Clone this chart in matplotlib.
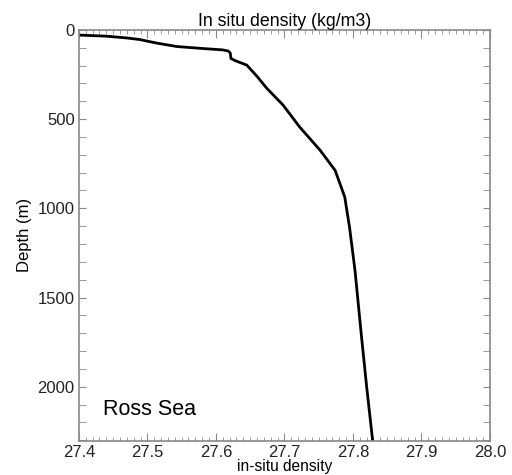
import numpy as np
import matplotlib
matplotlib.use("Agg")
import matplotlib.pyplot as plt
from matplotlib.ticker import MultipleLocator

# Ross Sea in-situ density profile
density = [27.395, 27.44, 27.47, 27.489, 27.50, 27.514, 27.543, 27.58,
           27.610, 27.618, 27.621, 27.622, 27.628, 27.645, 27.660, 27.674,
           27.698, 27.722, 27.752, 27.774, 27.788, 27.795, 27.803, 27.812,
           27.820, 27.829]
depth = [28, 35, 45, 54, 63, 74, 93, 104, 112, 118, 130, 160, 172, 197, 260,
         326, 421, 543, 674, 787, 936, 1105, 1348, 1700, 2000, 2310]

plt.rcParams['font.family'] = ['Liberation Sans', 'DejaVu Sans']

fig = plt.figure(figsize=(5.12, 4.75), dpi=100)
ax = fig.add_axes([0.154, 0.072, 0.803, 0.865])

ax.plot(density, depth, color="black", lw=2)

ax.set_xlim(27.4, 28.0)
ax.set_ylim(2303, 0)
ax.set_xticks([27.4, 27.5, 27.6, 27.7, 27.8, 27.9, 28.0])
ax.set_xticklabels(["27.4", "27.5", "27.6", "27.7", "27.8", "27.9", "28.0"])
ax.xaxis.set_minor_locator(MultipleLocator(0.01))
ax.set_yticks([0, 500, 1000, 1500, 2000])
ax.yaxis.set_minor_locator(MultipleLocator(100))

ax.tick_params(which="both", direction="in", top=True, right=True,
               color="#888888", labelsize=12, labelcolor="#222222", pad=3)
ax.tick_params(axis="x", which="major", length=6)
ax.tick_params(axis="x", which="minor", length=3)
ax.tick_params(axis="y", which="both", length=5)
for s in ax.spines.values():
    s.set_color("#888888")
    s.set_linewidth(1.2)

ax.set_title("In situ density (kg/m3)", fontsize=12.8, pad=3)
ax.set_xlabel("in-situ density", fontsize=11.2, labelpad=-1)
ax.set_ylabel("Depth (m)", fontsize=12)

ax.text(27.435, 2130, "Ross Sea", fontsize=15.5, va="center")

fig.savefig("out.png", dpi=100)
